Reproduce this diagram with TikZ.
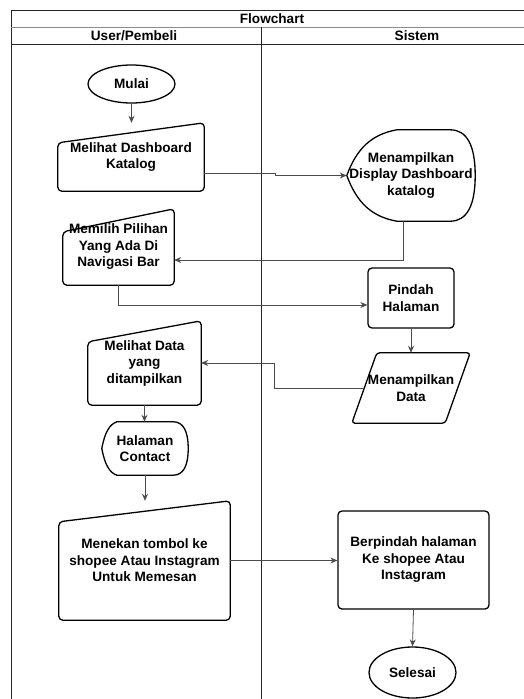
\documentclass[tikz,border=0pt]{standalone}
\usepackage{fontspec}
\setmainfont{Liberation Sans}
\usetikzlibrary{arrows.meta,shapes.geometric}

\begin{document}
\begin{tikzpicture}[x=1pt,y=-1pt,
  every node/.style={font=\fontsize{13.6}{16.5}\selectfont\bfseries,align=center,inner sep=0pt},
  outline/.style={line width=1.3pt,line join=round},
  proses/.style={draw,line width=1.3pt,rounded corners=4pt},
  terminal/.style={draw,ellipse,line width=1.3pt},
  conn/.style={line width=0.8pt,black!70,-{Stealth[length=7pt,width=6pt]}},
  lane/.style={line width=0.9pt,black!85}]
  \useasboundingbox (0,0) rectangle (524,699);

  % swimlanes
  \draw[lane] (11,699) |- (524,10);
  \draw[lane,black!45] (11,27) -- (524,27);
  \draw[lane] (11,44) -- (524,44);
  \draw[lane] (261,27) -- (261,699);
  \node (judul) at (272,18.5) {Flowchart};
  \node (userlane) at (134,35.5) {User/Pembeli};
  \node (sistemlane) at (417,35.5) {Sistem};

  % nodes
  \node[terminal,minimum width=87pt,minimum height=38pt] (mulai) at (131.5,84) {Mulai};
  \node[minimum width=146pt,minimum height=68pt] (lihatdash) at (131,157) {Melihat Dashboard\\Katalog};
  \node[minimum width=128pt,minimum height=91pt] (tampil) at (411,175.5) {Menampilkan\\Display Dashboard\\katalog};
  \node[minimum width=111pt,minimum height=76pt] (pilih) at (118.5,247) {Memilih Pilihan\\Yang Ada Di\\Navigasi Bar};
  \node[proses,minimum width=86pt,minimum height=60pt] (pindah) at (411,298) {Pindah\\Halaman};
  \node[minimum width=118pt,minimum height=70pt] (tampildata) at (411,388) {Menampilkan\\Data};
  \node[minimum width=113pt,minimum height=84pt] (lihatdata) at (144.5,363) {Melihat Data\\yang\\ditampilkan};
  \node[minimum width=86pt,minimum height=53pt] (contact) at (145,448.5) {Halaman\\Contact};
  \node[minimum width=171pt,minimum height=119pt] (tekan) at (144.5,560.5) {Menekan tombol ke\\shopee Atau Instagram\\Untuk Memesan};
  \node[proses,minimum width=151pt,minimum height=98pt] (berpindah) at (413.5,560) {Berpindah halaman\\Ke shopee Atau\\Instagram};
  \node[terminal,minimum width=87pt,minimum height=51pt] (selesai) at (412.5,672.5) {Selesai};

  % manual input outlines
  \foreach \n/\d in {lihatdash/20,pilih/23,lihatdata/21,tekan/21}
    \draw[outline,rounded corners=4pt] (\n.south west) -- ([yshift=-\d pt]\n.north west)
      -- (\n.north east) -- (\n.south east) -- cycle;
  % display outlines
  \foreach \n/\l/\r/\h in {tampil/50/25/91,contact/15/15/53}
    \draw[outline] (\n.west) .. controls +(0.2*\l,-0.3*\h) and +(-0.5*\l,0.05*\h) .. ([xshift=\l pt]\n.north west)
      -- ([xshift=-\r pt]\n.north east) .. controls +(0.67*\r,0) and +(0,-0.33*\h) .. (\n.east)
      .. controls +(0,0.33*\h) and +(0.67*\r,0) .. ([xshift=-\r pt]\n.south east)
      -- ([xshift=\l pt]\n.south west) .. controls +(-0.5*\l,-0.05*\h) and +(0.2*\l,0.3*\h) .. (\n.west) -- cycle;
  % data outline
  \draw[outline,rounded corners=3pt] (tampildata.south west) -- ([xshift=25pt]tampildata.north west)
    -- (tampildata.north east) -- ([xshift=-25pt]tampildata.south east) -- cycle;

  % connectors
  \draw[conn] (mulai.south) -- (mulai.south |- lihatdash.north);
  \draw[conn] ([yshift=-16pt]lihatdash.east) -- ++(71,0) |- (tampil.west);
  \draw[conn] ([xshift=-8pt]tampil.south) |- ([yshift=-13pt]pilih.east);
  \draw[conn] (pilih.south) |- ([yshift=-7pt]pindah.west);
  \draw[conn] (pindah.south) -- (tampildata.north);
  \draw[conn] ([xshift=12.5pt]tampildata.west) -- ++(-89.5,0) |- (lihatdata.east);
  \draw[conn] (lihatdata.south) -- (lihatdata.south |- contact.north);
  \draw[conn] (contact.south) -- (contact.south |- tekan.north);
  \draw[conn] (tekan.east) -- (tekan.east -| berpindah.west);
  \draw[conn] (berpindah.south) -- (selesai.north);
\end{tikzpicture}
\end{document}
